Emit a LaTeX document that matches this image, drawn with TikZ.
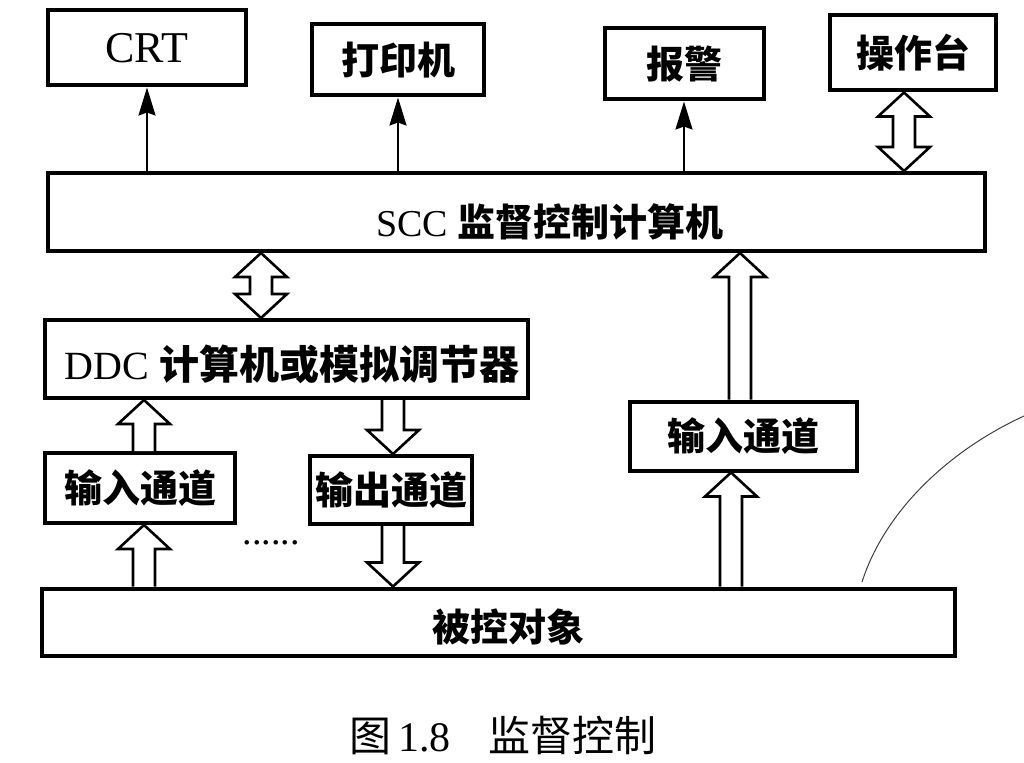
\documentclass[tikz,border=0pt]{standalone}
\usepackage{fontspec}
\setmainfont{Liberation Serif}
\newfontfamily\hei{Noto Sans CJK SC}
\usetikzlibrary{arrows.meta,calc}

% hollow block arrow: #1 tail, #2 tip (x taken from the tail)
\newcommand\hollowone[2]{%
  \draw[hollow] let \p1=#1, \p2=#2, \n1={ifthenelse(\y2>\y1,1,-1)} in
    (\x1-11pt,\y1) -- (\x1-11pt,\y2-\n1*24pt) -- (\x1-26pt,\y2-\n1*24pt)
    -- (\x1,\y2) -- (\x1+26pt,\y2-\n1*24pt) -- (\x1+11pt,\y2-\n1*24pt)
    -- (\x1+11pt,\y1);}
% hollow block arrow with heads at both ends
\newcommand\hollowtwo[2]{%
  \draw[hollow] let \p1=#1, \p2=#2, \n1={ifthenelse(\y2>\y1,1,-1)} in
    (\x1,\y1) -- (\x1-26pt,\y1+\n1*24pt) -- (\x1-11pt,\y1+\n1*24pt)
    -- (\x1-11pt,\y2-\n1*24pt) -- (\x1-26pt,\y2-\n1*24pt)
    -- (\x1,\y2) -- (\x1+26pt,\y2-\n1*24pt) -- (\x1+11pt,\y2-\n1*24pt)
    -- (\x1+11pt,\y1+\n1*24pt) -- (\x1+26pt,\y1+\n1*24pt) -- cycle;}

\begin{document}
\begin{tikzpicture}[x=1pt,y=-1pt,
  box/.style={draw,line width=4pt,rectangle,inner sep=0pt,fill=white},
  hollow/.style={line width=2.6pt,fill=white,line join=miter},
  thinarrow/.style={line width=2pt,-{Stealth[length=28pt,width=17pt,inset=3pt]}},
  cjk/.style={font=\hei\bfseries\fontsize{38}{40}\selectfont},
  lat/.style={font=\fontsize{38}{40}\selectfont}]
\useasboundingbox (0,0) rectangle (1024,762);
\fill[white] (0,0) rectangle (1024,762);

% output devices
\node[box,font=\fontsize{44}{46}\selectfont,minimum width=198pt,minimum height=75pt] (crt) at (147,48) {CRT};
\node[box,cjk,minimum width=172pt,minimum height=71pt] (prn) at (398,60) {打印机};
\node[box,cjk,minimum width=159pt,minimum height=71pt] (alarm) at (684,64) {报警};
\node[box,cjk,minimum width=166pt,minimum height=75pt] (op) at (913,53) {操作台};

% supervisory computer
\node[box,minimum width=937pt,minimum height=78pt] (scc) at (516,212) {};
\node[lat,anchor=center] (scct) at (550,222) {SCC {\hei\bfseries 监督控制计算机}};

% DDC level
\node[box,minimum width=483pt,minimum height=78pt] (ddc) at (286,359) {};
\node[font=\fontsize{40}{42}\selectfont] (ddct) at (292,364) {DDC {\hei\bfseries 计算机或模拟调节器}};

\node[box,cjk,minimum width=190pt,minimum height=70pt] (in1) at (140,488) {输入通道};
\node[box,cjk,minimum width=162pt,minimum height=68pt] (out) at (391,490) {输出通道};
\node[box,cjk,minimum width=227pt,minimum height=69pt] (in2) at (743,436) {输入通道};

\node[lat] (dots) at (271,543) {......};

% process under control
\node[box,minimum width=913pt,minimum height=67pt] (plant) at (498,622) {};
\node[cjk] (plantt) at (508,627) {被控对象};

% caption
\node[font=\hei\fontsize{42}{44}\selectfont] (cap) at (503,736) {图\,{\rmfamily 1.8}\hspace{0.9em}监督控制};

% x positions of the block arrows
\coordinate (xa) at (261,0);
\coordinate (xb) at (904,0);
\coordinate (xc) at (144,0);
\coordinate (xd) at (393,0);
\coordinate (xe) at (731,0);
\coordinate (xf) at (740,0);

% thin signal arrows to the output devices
\draw[thinarrow] (scc.north -| crt.south) -- (crt.south);
\draw[thinarrow] (scc.north -| prn.south) -- (prn.south);
\draw[thinarrow] (scc.north -| alarm.south) -- (alarm.south);

% block arrows
\hollowtwo{(op.south -| xb)}{(scc.north -| xb)}
\hollowtwo{(scc.south -| xa)}{(ddc.north -| xa)}
\hollowone{(in1.north -| xc)}{(ddc.south -| xc)}
\hollowone{(plant.north -| xc)}{(in1.south -| xc)}
\hollowone{(ddc.south -| xd)}{(out.north -| xd)}
\hollowone{(out.south -| xd)}{(plant.north -| xd)}
\hollowone{(plant.north -| xe)}{(in2.south -| xe)}
\hollowone{(in2.north -| xf)}{(scc.south -| xf)}

% pencil arc in the margin
\coordinate (arcA) at (1024,416);
\coordinate (arcB) at (862,582);
\draw[line width=1pt,black!75] (arcA) .. controls (950,450) and (885,510) .. (arcB);
\end{tikzpicture}
\end{document}
